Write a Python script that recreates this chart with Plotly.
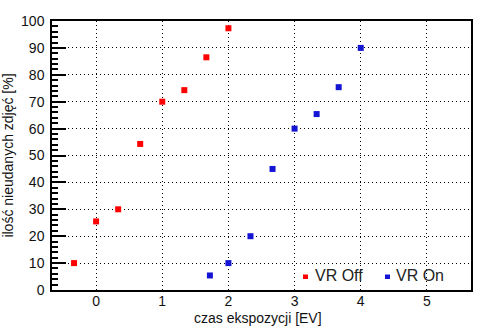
import plotly.graph_objects as go

# Exposure time offsets [EV] and share of failed shots [%]
ev_off = [-1/3, 0, 1/3, 2/3, 1, 4/3, 5/3, 2]
fail_off = [10, 25.5, 30, 54.3, 70, 74.3, 86.5, 97.3]

ev_on = [1.72, 2, 7/3, 8/3, 3, 10/3, 11/3, 4]
fail_on = [5.4, 10, 20, 45, 60, 65.4, 75.4, 90]

series_names = ["VR Off", "VR On"]
series_colors = ["#ff0000", "#1414d4"]

x_ticks = [0, 1, 2, 3, 4, 5]
y_ticks = [0, 10, 20, 30, 40, 50, 60, 70, 80, 90, 100]

x_title = "czas ekspozycji [EV]"
y_title = "ilość nieudanych zdjęć [%]"

FONT = "Liberation Sans, Arial, sans-serif"

W, H = 494, 331
ML, MR, MT, MB = 52, 23, 21, 41
PW, PH = W - ML - MR, H - MT - MB


def px_to_paper(px, py):
    return (px - ML) / PW, (H - MB - py) / PH


fig = go.Figure()
for name, color, xs, ys in zip(series_names, series_colors,
                               [ev_off, ev_on], [fail_off, fail_on]):
    fig.add_trace(go.Scatter(
        x=xs, y=ys, mode="markers", name=name, showlegend=False,
        marker=dict(symbol="square", size=6, color=color, line=dict(width=0)),
    ))

# compact legend drawn inside the plot, bottom right
for (sx, tx), name, color in zip([(303, 312.5), (385, 393.5)],
                                 series_names, series_colors):
    x0, y0 = px_to_paper(sx, 279)
    x1, y1 = px_to_paper(sx + 5, 274.5)
    fig.add_shape(type="rect", xref="paper", yref="paper",
                  x0=x0, x1=x1, y0=y0, y1=y1,
                  fillcolor=color, line=dict(width=0))
    ax, ay = px_to_paper(tx, 275.5)
    fig.add_annotation(xref="paper", yref="paper", x=ax, y=ay,
                       xanchor="left", yanchor="middle", showarrow=False,
                       text=name, font=dict(family=FONT, size=16, color="#222"))

# x-axis title placed just under the tick labels
tx, ty = px_to_paper(258, 318)
fig.add_annotation(xref="paper", yref="paper", x=tx, y=ty,
                   xanchor="center", yanchor="middle", showarrow=False,
                   text=x_title, font=dict(family=FONT, size=14, color="#111"))

axis_common = dict(
    showline=True, linecolor="black", linewidth=1.5, mirror=True,
    showgrid=True, gridcolor="black", gridwidth=1, griddash="1px,3px",
    zeroline=False, automargin=False,
    tickfont=dict(family=FONT, size=14, color="#111"),
    title_font=dict(family=FONT, size=14, color="#111"),
)

fig.update_xaxes(
    **axis_common,
    range=[-2/3, 17/3], tickmode="array", tickvals=x_ticks,
    ticks="", ticklabelstandoff=-3,
)
fig.update_yaxes(
    **axis_common,
    range=[0, 100], tickmode="array", tickvals=y_ticks,
    ticks="inside", ticklen=14, tickwidth=1.5, tickcolor="black",
    minor=dict(dtick=2, ticks="inside", ticklen=6, tickwidth=1.5,
               tickcolor="black", showgrid=False),
    ticklabelstandoff=3,
    title_text=y_title, title_standoff=8,
)

fig.update_layout(
    width=W, height=H,
    margin=dict(l=ML, r=MR, t=MT, b=MB),
    paper_bgcolor="white", plot_bgcolor="white",
    showlegend=False,
)

fig.write_html("out.html")
